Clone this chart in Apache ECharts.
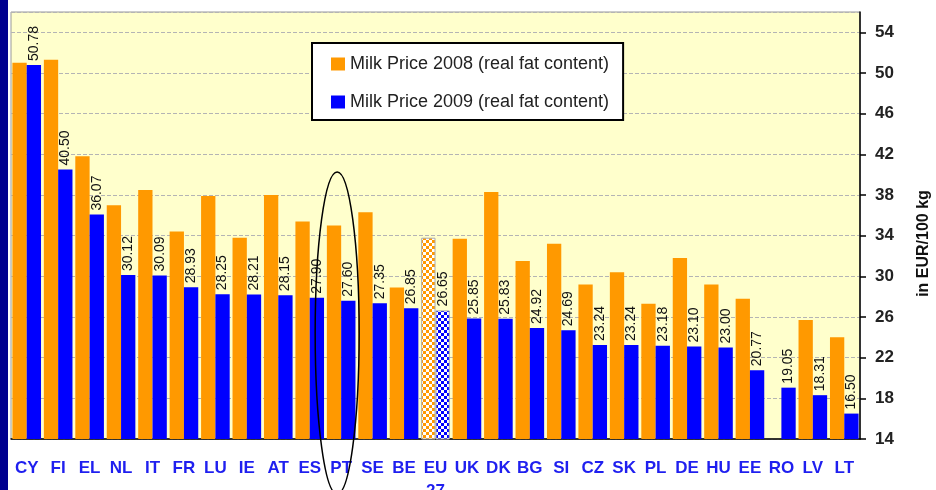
<!DOCTYPE html>
<html>
<head>
<meta charset="utf-8">
<script src="https://cdn.jsdelivr.net/npm/echarts@6/dist/echarts.min.js"></script>
<style>
  html, body { margin: 0; padding: 0; background: #fff; }
  #myChart { width: 936px; height: 490px; }
</style>
</head>
<body>
<div id="myChart"></div>
<script>
// countries, EU-27 average in the middle
var categories = ['CY', 'FI', 'EL', 'NL', 'IT', 'FR', 'LU', 'IE', 'AT', 'ES', 'PT', 'SE', 'BE', 'EU\n27',
  'UK', 'DK', 'BG', 'SI', 'CZ', 'SK', 'PL', 'DE', 'HU', 'EE', 'RO', 'LV', 'LT']
// 2008 (no value for RO)
var price2008 = [51.0, 51.3, 41.8, 37.0, 38.5, 34.4, 37.9, 33.8, 38.0, 35.4, 35.0, 36.3, 28.9, 33.8,
  33.7, 38.3, 31.5, 33.2, 29.2, 30.4, 27.3, 31.8, 29.2, 27.8, null, 25.7, 24.0]
// 2009 from the labels
var price2009 = [50.78, 40.50, 36.07, 30.12, 30.09, 28.93, 28.25, 28.21, 28.15, 27.90, 27.60, 27.35, 26.85, 26.65,
  25.85, 25.83, 24.92, 24.69, 23.24, 23.24, 23.18, 23.10, 23.00, 20.77, 19.05, 18.31, 16.50]
var yTicks = { min: 14, max: 56, step: 4 }
var seriesNames = ['Milk Price 2008 (real fat content)', 'Milk Price 2009 (real fat content)']
var euIndex = 13
var markedCountry = 'PT'

// checkered fill for the EU bars
function checker (color) {
  var c = document.createElement('canvas')
  c.width = 6
  c.height = 6
  var ctx = c.getContext('2d')
  ctx.fillStyle = '#fff'
  ctx.fillRect(0, 0, 6, 6)
  ctx.fillStyle = color
  ctx.fillRect(0, 0, 3, 3)
  ctx.fillRect(3, 3, 3, 3)
  return { image: c, repeat: 'repeat' }
}

function withEu (values, color) {
  return values.map(function (v, i) {
    if (i !== euIndex) return v == null ? '-' : v
    return { value: v, itemStyle: { color: checker(color), borderColor: '#aaa', borderWidth: 1 } }
  })
}

var myChart = echarts.init(document.getElementById('myChart'))
var option = {
  animation: false,
  backgroundColor: '#fff',
  grid: {
    left: 11, right: 76, top: 12, bottom: 51,
    show: true,
    backgroundColor: '#ffffcc',
    borderColor: '#999',
    borderWidth: 1,
    outerBoundsMode: 'none'
  },
  legend: {
    orient: 'vertical',
    left: 312,
    top: 43,
    padding: [12, 14, 9, 19],
    itemGap: 20,
    itemWidth: 14,
    itemHeight: 13,
    icon: 'rect',
    backgroundColor: '#fff',
    borderColor: '#000',
    borderWidth: 2,
    borderRadius: 0,
    textStyle: { fontFamily: 'Liberation Sans', fontSize: 18, color: '#222' },
    data: seriesNames
  },
  xAxis: {
    type: 'category',
    data: categories,
    axisLine: { lineStyle: { color: '#000', width: 1.5 } },
    axisTick: { length: 6, lineStyle: { color: '#000', width: 1.5 } },
    axisLabel: {
      interval: 0,
      margin: 18,
      color: '#1f1fef',
      fontFamily: 'Liberation Sans',
      fontWeight: 'bold',
      fontSize: 17,
      lineHeight: 23
    }
  },
  yAxis: {
    type: 'value',
    position: 'right',
    min: yTicks.min,
    max: yTicks.max,
    interval: yTicks.step,
    name: 'in EUR/100 kg',
    nameLocation: 'middle',
    nameRotate: 90,
    nameGap: 56,
    nameTextStyle: { fontFamily: 'Liberation Sans', fontWeight: 'bold', fontSize: 16, color: '#111', padding: [0, 36, 0, 0] },
    axisLine: { show: true, lineStyle: { color: '#000', width: 1.5 } },
    axisTick: { show: true, length: 6, lineStyle: { color: '#000', width: 1.5 } },
    axisLabel: {
      showMaxLabel: false,
      margin: 15,
      color: '#222',
      fontFamily: 'Liberation Sans',
      fontWeight: 'bold',
      fontSize: 17
    },
    splitLine: { lineStyle: { color: '#b4b4b4', type: 'dashed', width: 1 } }
  },
  series: [
    {
      name: seriesNames[0],
      type: 'bar',
      barGap: '0%',
      barCategoryGap: '9%',
      itemStyle: { color: '#ff9900' },
      data: withEu(price2008, '#ff9900')
    },
    {
      name: seriesNames[1],
      type: 'bar',
      itemStyle: { color: '#0000ff' },
      label: {
        show: true,
        position: 'top',
        rotate: 90,
        align: 'left',
        verticalAlign: 'middle',
        distance: 4,
        fontFamily: 'Liberation Sans',
        fontSize: 14,
        color: '#111',
        formatter: function (p) { return p.value.toFixed(2) }
      },
      data: withEu(price2009, '#0000ff')
    }
  ]
}
myChart.setOption(option)

// ellipse round the PT column + dark strip on the left
var px = myChart.convertToPixel({ xAxisIndex: 0 }, markedCountry)
myChart.setOption({
  graphic: [
    {
      type: 'rect',
      shape: { x: 0, y: 0, width: 8, height: 490 },
      style: { fill: '#00008f' },
      z: 100
    },
    {
      type: 'ellipse',
      shape: { cx: px - 4, cy: 333, rx: 22, ry: 161 },
      style: { fill: null, stroke: '#000', lineWidth: 1.5 },
      z: 100
    }
  ]
})
</script>
</body>
</html>
